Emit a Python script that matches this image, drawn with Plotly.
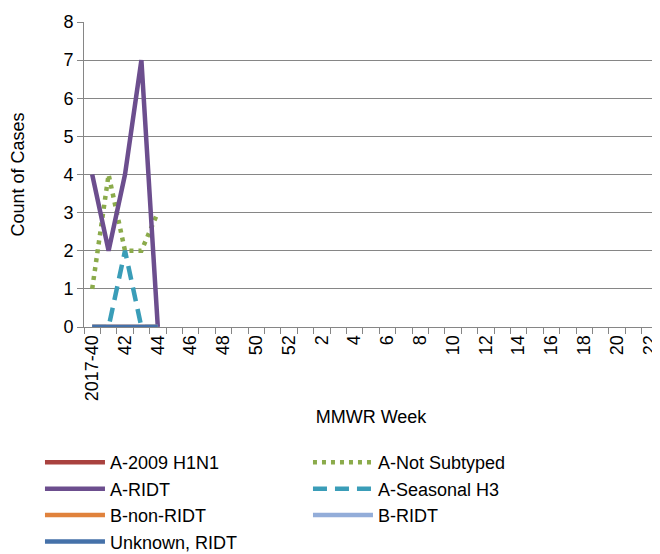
import plotly.graph_objects as go

weeks = ["2017-40"] + [str(w) for w in range(41, 53)] + [str(w) for w in range(1, 23)]
data_weeks = ["2017-40", "41", "42", "43", "44"]

a_2009_h1n1 = [0, 0, 0, 0, 0]
a_not_subtyped = [1, 4, 2, 2, 3]
a_ridt = [4, 2, 4, 7, 0]
a_seasonal_h3 = [0, 0, 2, 0, 0]
b_non_ridt = [0, 0, 0, 0, 0]
b_ridt = [0, 0, 0, 0, 0]
unknown_ridt = [0, 0, 0, 0, 0]

series = [
    ("A-2009 H1N1", a_2009_h1n1, "#A9423F", "solid"),
    ("A-Not Subtyped", a_not_subtyped, "#8BAB4B", "4px,5px"),
    ("A-RIDT", a_ridt, "#6C4E8E", "solid"),
    ("A-Seasonal H3", a_seasonal_h3, "#3A9DB8", "14px,8px"),
    ("B-non-RIDT", b_non_ridt, "#E0823C", "solid"),
    ("B-RIDT", b_ridt, "#93ADD9", "solid"),
    ("Unknown, RIDT", unknown_ridt, "#4571A9", "solid"),
]

FONT = "Liberation Sans"
fig = go.Figure()
for name, vals, color, dash in series:
    fig.add_trace(go.Scatter(
        x=data_weeks, y=vals, mode="lines", name=name,
        line=dict(color=color, width=4.5, dash=dash),
    ))

ticktext = [w if i % 2 == 0 else "" for i, w in enumerate(weeks)]

fig.update_layout(
    width=652, height=546,
    margin=dict(l=76, r=2, t=14, b=227, autoexpand=False),
    paper_bgcolor="white", plot_bgcolor="white",
    font=dict(family=FONT, size=18, color="black"),
    showlegend=True,
    legend=dict(
        orientation="h", x=-0.0767, xanchor="left", y=-0.384, yanchor="top",
        entrywidth=193, entrywidthmode="pixels",
        font=dict(family=FONT, size=18, color="black"),
        tracegroupgap=0, itemwidth=60,
    ),
    xaxis=dict(
        type="category", categoryorder="array", categoryarray=weeks,
        range=[-0.5, len(weeks) - 0.5], automargin=False,
        tickmode="array", tickvals=weeks, ticktext=ticktext,
        tickangle=-90, tickson="boundaries", ticks="outside", ticklen=6,
        tickcolor="#868686", showline=True, linecolor="#868686", linewidth=1,
        showgrid=False, zeroline=False,
        title=dict(text="MMWR Week", font=dict(family=FONT, size=18), standoff=10),
    ),
    yaxis=dict(
        range=[0, 8], dtick=1, tick0=0, automargin=False,
        ticks="outside", ticklen=6, tickcolor="#868686",
        showline=True, linecolor="#868686", linewidth=1,
        showgrid=True, gridcolor="#868686", gridwidth=1,
        zeroline=False,
        title=dict(text="Count of Cases", font=dict(family=FONT, size=18), standoff=40),
    ),
)

fig.write_html("out.html")
